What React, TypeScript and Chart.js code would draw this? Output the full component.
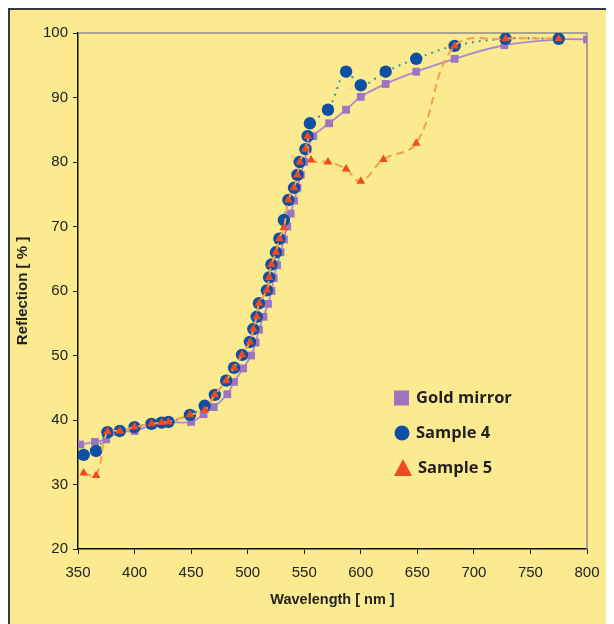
import React, { useEffect, useRef } from "react";
import { Chart, registerables } from "chart.js";

Chart.register(...registerables);

// ---- data ----
const goldX = [352, 365, 375, 386, 400, 415, 425, 430, 450, 461, 470, 482, 488, 496, 503, 507, 510, 514, 518, 521, 523, 526, 529, 532, 535, 538, 541, 544, 547, 550, 553, 558, 572, 587, 600, 622, 649, 683, 727, 775, 800];
const goldY = [36.2, 36.6, 37.0, 38.1, 38.3, 39.2, 39.7, 39.7, 39.7, 40.9, 42.0, 44.0, 45.9, 48.0, 50.0, 52.0, 54.0, 56.0, 58.0, 60.0, 62.0, 64.0, 66.0, 68.0, 70.0, 72.0, 74.0, 76.0, 78.0, 80.0, 82.0, 84.0, 86.0, 88.1, 90.1, 92.1, 94.0, 96.0, 98.1, 99.0, 99.0];

const s4X = [355, 366, 376, 387, 400, 415, 424, 430, 449, 462, 471, 481, 488, 495, 502, 505, 508, 510, 517, 519, 521, 525, 528, 532, 536, 541, 544, 546, 551, 553, 555, 571, 587, 600, 622, 649, 683, 728, 775];
const s4Y = [34.6, 35.2, 38.1, 38.3, 38.9, 39.4, 39.6, 39.7, 40.8, 42.2, 43.9, 46.1, 48.1, 50.1, 52.1, 54.1, 56.0, 58.1, 60.1, 62.1, 64.1, 66.0, 68.1, 71.0, 74.1, 76.0, 78.0, 80.0, 82.0, 84.0, 86.0, 88.1, 94.0, 91.9, 94.0, 96.0, 98.0, 99.1, 99.1];

const s5X = [355, 366, 376, 387, 400, 415, 424, 430, 449, 462, 471, 481, 488, 495, 502, 505, 508, 510, 517, 519, 521, 525, 528, 532, 536, 541, 544, 546, 551, 553, 556, 571, 587, 600, 620, 649, 683, 728, 775];
const s5Y = [31.8, 31.4, 38.2, 38.3, 38.9, 39.4, 39.6, 39.7, 40.8, 41.5, 43.9, 46.1, 48.1, 50.1, 52.1, 54.1, 56.0, 58.1, 60.1, 62.1, 64.1, 66.0, 68.1, 69.8, 74.1, 76.0, 78.0, 80.0, 82.0, 84.0, 80.3, 80.0, 78.9, 77.0, 80.4, 82.9, 98.0, 99.1, 99.1];

const xTicks = [350, 400, 450, 500, 550, 600, 650, 700, 750, 800];
const yTicks = [20, 30, 40, 50, 60, 70, 80, 90, 100];
const legendLabels = ["Gold mirror", "Sample 4", "Sample 5"];

const toPts = (xs: number[], ys: number[]) => xs.map((x, i) => ({ x, y: ys[i] }));

const BG = "#FBEA8F";
const PURPLE = "#9C74C0";
const PURPLE_LINE = "#A88BCF";
const BLUE = "#0D4FA3";
const TEAL = "#2E96B4";
const RED = "#F04A22";
const ORANGE = "#F6A04C";

const framePlugin = {
  id: "frame",
  beforeDatasetsDraw(chart: any) {
    const { ctx, chartArea: a } = chart;
    ctx.save();
    ctx.strokeStyle = "#8C8C8C";
    ctx.lineWidth = 1.5;
    ctx.beginPath();
    ctx.moveTo(a.left, a.top);
    ctx.lineTo(a.right, a.top);
    ctx.lineTo(a.right, a.bottom);
    ctx.stroke();
    ctx.restore();
  },
  afterDraw(chart: any) {
    const { ctx } = chart;
    ctx.save();
    const lx = 384; // canvas coords (page - 10)
    const rows = [388, 423, 458];
    ctx.font = "bold 16.5px 'Open Sans', sans-serif";
    ctx.textBaseline = "middle";
    ctx.textAlign = "left";
    ctx.fillStyle = PURPLE;
    ctx.fillRect(lx, rows[0] - 7.5, 15, 15);
    ctx.fillStyle = BLUE;
    ctx.beginPath();
    ctx.arc(lx + 8, rows[1], 7.5, 0, Math.PI * 2);
    ctx.fill();
    ctx.fillStyle = RED;
    ctx.beginPath();
    ctx.moveTo(lx + 9, rows[2] - 9);
    ctx.lineTo(lx + 18, rows[2] + 8);
    ctx.lineTo(lx, rows[2] + 8);
    ctx.closePath();
    ctx.fill();
    ctx.fillStyle = "#231F20";
    ctx.fillText(legendLabels[0], lx + 22, rows[0]);
    ctx.fillText(legendLabels[1], lx + 22, rows[1]);
    ctx.fillText(legendLabels[2], lx + 24, rows[2]);
    ctx.restore();
  },
};

export default function App() {
  const ref = useRef<HTMLCanvasElement | null>(null);
  useEffect(() => {
    if (!ref.current) return;
    const tickFont = { family: "'Liberation Sans', Arial, sans-serif", size: 15 };
    const chart = new Chart(ref.current, {
      type: "line",
      data: {
        datasets: [
          {
            label: legendLabels[2],
            data: toPts(s5X, s5Y),
            borderColor: ORANGE,
            borderWidth: 2,
            borderDash: [8, 5],
            backgroundColor: RED,
            pointBackgroundColor: RED,
            pointBorderColor: RED,
            pointStyle: "triangle",
            pointRadius: 5,
            pointBorderWidth: 0,
            tension: 0.4,
          },
          {
            label: legendLabels[1],
            data: toPts(s4X, s4Y),
            borderColor: TEAL,
            borderWidth: 2,
            borderDash: [2, 5],
            backgroundColor: BLUE,
            pointBackgroundColor: BLUE,
            pointBorderColor: BLUE,
            pointStyle: "circle",
            pointRadius: 6.2,
            pointBorderWidth: 0,
            tension: 0.4,
          },
          {
            label: legendLabels[0],
            data: toPts(goldX, goldY),
            borderColor: PURPLE_LINE,
            borderWidth: 1.8,
            backgroundColor: PURPLE,
            pointBackgroundColor: PURPLE,
            pointBorderColor: PURPLE,
            pointStyle: "rect",
            pointRadius: 5.5,
            pointBorderWidth: 0,
            tension: 0.4,
          },
        ],
      },
      options: {
        animation: false,
        responsive: false,
        maintainAspectRatio: false,
        layout: { padding: { left: 0, top: 23, right: 27, bottom: 0 } },
        plugins: { legend: { display: false }, tooltip: { enabled: false } },
        scales: {
          x: {
            type: "linear",
            min: 350,
            max: 800,
            afterFit: (s: any) => { s.height = 75; },
            afterBuildTicks: (s: any) => { s.ticks = xTicks.map((v) => ({ value: v })); },
            grid: { display: true, drawOnChartArea: false, drawTicks: true, tickLength: 5, color: "#222", lineWidth: 1 },
            border: { display: true, color: "#111", width: 1.5 },
            ticks: { color: "#222", font: tickFont, padding: 10, maxRotation: 0 },
            title: {
              display: true,
              text: "Wavelength [ nm ]",
              color: "#222",
              font: { family: "'Liberation Sans', Arial, sans-serif", size: 14.5, weight: "bold" },
              padding: { top: 0, bottom: 15 },
            },
          },
          y: {
            type: "linear",
            min: 20,
            max: 100,
            afterFit: (s: any) => { s.width = 68; },
            afterBuildTicks: (s: any) => { s.ticks = yTicks.map((v) => ({ value: v })); },
            grid: { display: true, drawOnChartArea: false, drawTicks: true, tickLength: 5, color: "#222", lineWidth: 1 },
            border: { display: true, color: "#111", width: 1.5 },
            ticks: { color: "#222", font: tickFont, padding: 5 },
            title: {
              display: true,
              text: "Reflection [ % ]",
              color: "#222",
              font: { family: "'Liberation Sans', Arial, sans-serif", size: 15, weight: "bold" },
              padding: { top: 4, bottom: 0 },
            },
          },
        },
      },
      plugins: [framePlugin],
    } as any);
    return () => chart.destroy();
  }, []);

  return (
    <div
      style={{
        width: 604,
        height: 614,
        background: BG,
        borderLeft: "2px solid #3a3a3a",
        borderTop: "2px solid #3a3a3a",
        overflow: "hidden",
      }}
    >
      <canvas ref={ref} width={604} height={614} style={{ display: "block" }} />
    </div>
  );
}
